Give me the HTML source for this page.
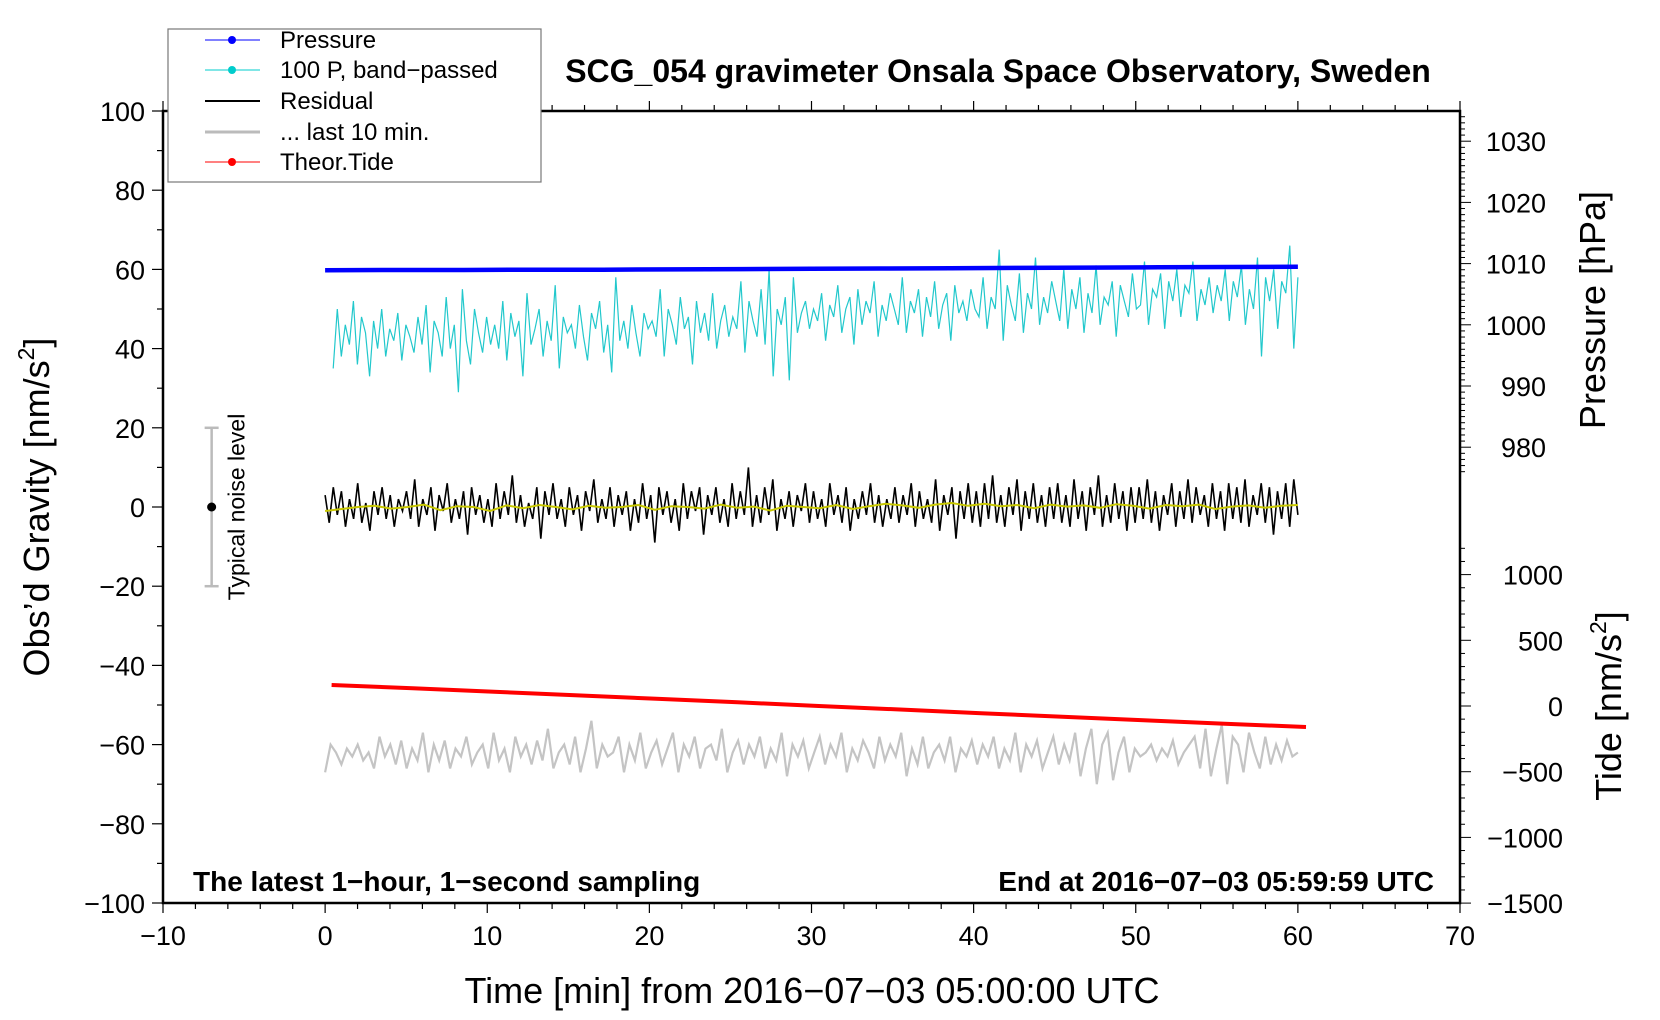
<!DOCTYPE html>
<html><head><meta charset="utf-8">
<style>
html,body{margin:0;padding:0;background:#fff;}
svg{display:block;font-family:"Liberation Sans",sans-serif;}
</style></head>
<body>
<svg id="chart" width="1660" height="1020" viewBox="0 0 1660 1020" xmlns="http://www.w3.org/2000/svg">
<rect x="0" y="0" width="1660" height="1020" fill="#fff"/>
<g id="ticks"></g>
<g id="series"></g>
<rect x="163" y="111" width="1297" height="792" fill="none" stroke="#000" stroke-width="2.5"/>
<text x="998" y="82" font-size="32" font-weight="bold" text-anchor="middle">SCG_054 gravimeter Onsala Space Observatory, Sweden</text>
<text x="193" y="891" font-size="28" font-weight="bold">The latest 1−hour, 1−second sampling</text>
<text x="1434" y="891" font-size="28" font-weight="bold" text-anchor="end">End at 2016−07−03 05:59:59 UTC</text>
<text x="812" y="1003" font-size="36" text-anchor="middle">Time [min] from 2016−07−03 05:00:00 UTC</text>
<text transform="translate(49,507) rotate(-90)" font-size="36" text-anchor="middle">Obs’d Gravity [nm/s<tspan font-size="23" dy="-15">2</tspan><tspan dy="15">]</tspan></text>
<text transform="translate(1605,310) rotate(-90)" font-size="36" text-anchor="middle">Pressure [hPa]</text>
<text transform="translate(1621,706) rotate(-90)" font-size="36" text-anchor="middle">Tide [nm/s<tspan font-size="23" dy="-15">2</tspan><tspan dy="15">]</tspan></text>
<g>
<rect x="168" y="29" width="373" height="153" fill="#fff" stroke="#777" stroke-width="1.2"/>
<g><line x1="205" y1="40" x2="260" y2="40" stroke="#0000ff" stroke-width="1"/><circle cx="232" cy="40" r="4" fill="#0000ff"/><text x="280" y="48" font-size="24">Pressure</text></g>
<g><line x1="205" y1="70" x2="260" y2="70" stroke="#00cccc" stroke-width="1"/><circle cx="232" cy="70" r="4" fill="#00cccc"/><text x="280" y="78" font-size="24">100 P, band−passed</text></g>
<g><line x1="205" y1="101" x2="260" y2="101" stroke="#000" stroke-width="2"/><text x="280" y="109" font-size="24">Residual</text></g>
<g><line x1="205" y1="132" x2="260" y2="132" stroke="#bbb" stroke-width="3"/><text x="280" y="140" font-size="24">... last 10 min.</text></g>
<g><line x1="205" y1="162" x2="260" y2="162" stroke="#ff0000" stroke-width="1"/><circle cx="232" cy="162" r="4" fill="#ff0000"/><text x="280" y="170" font-size="24">Theor.Tide</text></g>
</g>
</svg>
<script>
const xTicks = [-10,0,10,20,30,40,50,60,70];
const yTicks = [100,80,60,40,20,0,-20,-40,-60,-80,-100];
const pTicks = [1030,1020,1010,1000,990,980];
const tideTicks = [1000,500,0,-500,-1000,-1500];
const pressureVals = [1008.9,1008.95,1008.95,1009.0,1009.0,1009.05,1009.1,1009.15,1009.2,1009.25,1009.3,1009.35,1009.4,1009.45,1009.5];
const tideVals = [160,135,108,82,55,28,0,-27,-55,-82,-108,-135,-160];
const bandVals = [
35,50,38,46,41,52,36,48,44,33,47,40,50,38,45,42,49,37,46,43,
39,48,41,51,34,47,44,38,53,40,46,29,55,42,36,50,44,39,48,41,
46,40,52,37,49,43,47,33,54,41,45,50,38,47,42,56,35,48,44,46,
40,51,43,37,49,45,52,39,46,34,58,42,47,40,51,44,38,49,45,47,
43,55,38,50,46,41,53,45,48,36,52,44,49,42,54,40,47,51,43,48,
45,57,39,52,47,43,55,41,60,33,50,46,53,32,58,44,49,52,45,50,
47,54,42,51,48,56,44,50,53,41,55,46,52,49,57,43,51,47,54,50,
46,58,44,52,49,55,43,53,48,57,45,51,54,42,56,49,52,47,55,50,
48,58,45,53,50,65,42,56,51,47,59,44,54,50,63,46,53,49,57,52,
47,60,45,55,50,58,44,54,49,61,46,53,51,57,43,56,52,48,59,50,
51,62,46,55,53,59,45,57,52,60,48,56,54,62,47,55,51,58,49,56,
52,60,47,57,53,61,46,55,50,63,38,58,52,60,45,57,54,66,40,58];
const residVals = [
3,-4,5,-2,4,-5,2,-3,6,-4,1,-6,4,-2,5,-3,3,-5,2,-1,
4,-3,7,-5,2,-2,5,-6,3,-1,6,-4,2,-3,4,-7,5,-2,3,-4,
2,-5,6,-3,4,-2,8,-4,3,-5,1,-3,5,-8,4,-2,6,-3,2,-5,
5,-2,3,-6,4,-1,7,-4,2,-3,5,-5,3,-2,4,-6,2,-4,6,-3,
3,-9,5,-2,4,-4,2,-6,6,-3,4,-1,5,-7,3,-2,5,-4,2,-5,
6,-3,4,-2,10,-5,3,-4,5,-2,7,-6,2,-3,4,-5,3,-1,6,-4,
4,-3,2,-5,6,-2,3,-4,5,-6,2,-3,4,-2,6,-4,3,-5,2,-3,
5,-4,3,-2,6,-5,4,-3,2,-4,7,-6,3,-2,5,-8,4,-3,6,-4,
4,-5,6,-3,8,-4,3,-5,5,-2,7,-6,4,-3,6,-4,3,-5,5,-3,
6,-4,3,-5,7,-3,4,-6,5,-2,8,-5,3,-4,6,-3,4,-6,5,-4,
5,-3,7,-4,4,-6,3,-2,6,-5,4,-3,7,-4,5,-2,3,-5,6,-3,
4,-6,6,-3,5,-4,7,-5,3,-2,6,-4,5,-7,4,-3,6,-5,7,-2];
const smoothVals = [-1,-0.5,0,0.3,-0.4,0,0.6,-0.8,0.2,0,-1,0.4,-0.3,0.5,0,-0.6,0.3,-0.2,0,0.5,
-0.7,0.2,0,-0.4,0.6,-0.2,0.1,-0.9,0.3,0,-0.3,0.5,-0.5,0.2,0.8,0.4,-0.2,0.6,1,0.3,
0.8,0.2,0.5,-0.3,0.6,0.1,0.4,-0.2,0.7,0.3,-0.4,0.5,0.2,0.6,-0.5,0.1,0.4,-0.2,0.3,0.5];
const grayVals = [
-67,-60,-62,-65,-61,-63,-60,-64,-62,-66,-58,-63,-60,-65,-59,-66,-61,-64,-57,-67,
-60,-64,-59,-66,-61,-63,-58,-65,-62,-60,-66,-57,-64,-61,-67,-58,-63,-60,-65,-59,
-64,-56,-66,-62,-60,-65,-58,-67,-61,-54,-66,-60,-63,-62,-58,-67,-60,-64,-57,-66,
-62,-59,-65,-61,-57,-67,-60,-63,-58,-66,-61,-60,-64,-56,-67,-62,-59,-65,-60,-63,
-58,-66,-61,-64,-57,-68,-60,-63,-59,-66,-62,-58,-65,-60,-63,-57,-67,-61,-64,-59,
-62,-66,-58,-64,-60,-63,-57,-68,-61,-65,-58,-66,-62,-60,-64,-58,-67,-61,-63,-59,
-65,-60,-63,-58,-66,-61,-64,-57,-67,-60,-63,-59,-66,-62,-58,-65,-60,-64,-57,-68,
-61,-56,-70,-60,-57,-69,-62,-58,-67,-61,-63,-62,-60,-64,-61,-63,-59,-65,-62,-60,
-58,-66,-56,-68,-61,-55,-70,-58,-60,-67,-57,-62,-66,-58,-65,-60,-64,-59,-63,-62];

const X0=163, X1=1460, Y0=111, Y1=903;
function sx(t){return X0+(t+10)/80*(X1-X0);}
function sy(g){return Y0+(100-g)/200*(Y1-Y0);}
function sp(p){return 141.2+(1030-p)*6.12;}
function st(v){return 706-v*0.1314;}
const NS='http://www.w3.org/2000/svg';
const ticksG=document.getElementById('ticks');
const seriesG=document.getElementById('series');
function mk(tag,attrs,parent){const e=document.createElementNS(NS,tag);for(const k in attrs)e.setAttribute(k,attrs[k]);parent.appendChild(e);return e;}
function fmt(v){return v<0?'\u2212'+(-v):''+v;}

for(let t=-10;t<=70;t+=2){
  const major=(t%10===0);
  const tk=mk('line',{x1:sx(t),x2:sx(t),y1:Y1,y2:Y1+(major?10:6),stroke:'#000','stroke-width':1.2},ticksG);
  
  
  const tt=mk('line',{x1:sx(t),x2:sx(t),y1:Y0,y2:Y0-(major?10:6),stroke:'#000','stroke-width':1.2},ticksG);
  
  
}
xTicks.forEach(t=>{
  const l=mk('text',{x:sx(t),y:Y1+42,'font-size':27,'text-anchor':'middle'},ticksG);
  l.textContent=fmt(t);
  
  
});
for(let g=-100;g<=100;g+=10){
  const major=(g%20===0);
  const tk=mk('line',{x1:X0,x2:X0-(major?11:6),y1:sy(g),y2:sy(g),stroke:'#000','stroke-width':1.2},ticksG);
  
  
}
yTicks.forEach(g=>{
  const l=mk('text',{x:X0-18,y:sy(g)+10,'font-size':27,'text-anchor':'end'},ticksG);
  l.textContent=fmt(g);
  
  
});
for(let p=976;p<=1034;p+=1){
  const major=(p%10===0);
  const tk=mk('line',{x1:X1,x2:X1+(major?11:5),y1:sp(p),y2:sp(p),stroke:'#000','stroke-width':1},ticksG);
  
  
}
pTicks.forEach(p=>{
  const l=mk('text',{x:1546,y:sp(p)+10,'font-size':27,'text-anchor':'end'},ticksG);
  l.textContent=''+p;
  
  
});
for(let v=-1500;v<=1250;v+=100){
  const major=(v%500===0);
  const tk=mk('line',{x1:X1,x2:X1+(major?11:5),y1:st(v),y2:st(v),stroke:'#000','stroke-width':1},ticksG);
  
  
}
tideTicks.forEach(v=>{
  const l=mk('text',{x:1563,y:st(v)+10,'font-size':27,'text-anchor':'end'},ticksG);
  l.textContent=fmt(v);
  
  
});

function pts(vals,t0,t1,fy){return vals.map((v,i)=>sx(t0+(t1-t0)*i/(vals.length-1)).toFixed(1)+','+fy(v).toFixed(1)).join(' ');}

const nb=mk('g',{},seriesG);


mk('line',{x1:sx(-7),x2:sx(-7),y1:sy(20),y2:sy(-20),stroke:'#bbb','stroke-width':2.5},nb);
mk('line',{x1:sx(-7)-7,x2:sx(-7)+7,y1:sy(20),y2:sy(20),stroke:'#bbb','stroke-width':2.5},nb);
mk('line',{x1:sx(-7)-7,x2:sx(-7)+7,y1:sy(-20),y2:sy(-20),stroke:'#bbb','stroke-width':2.5},nb);
mk('circle',{cx:sx(-7),cy:sy(0),r:4.5,fill:'#000'},nb);
const nt=mk('text',{transform:'translate('+(sx(-7)+33)+','+sy(0)+') rotate(-90)','font-size':23,'text-anchor':'middle'},nb);
nt.textContent='Typical noise level';



const gray=mk('polyline',{points:pts(grayVals,0,60,sy),fill:'none',stroke:'#c4c4c4','stroke-width':2.2},seriesG);


const tide=mk('polyline',{points:pts(tideVals,0.4,60.5,st),fill:'none',stroke:'#ff0000','stroke-width':4},seriesG);


const band=mk('polyline',{points:pts(bandVals,0.5,60,sy),fill:'none',stroke:'#22c8cc','stroke-width':1.2},seriesG);


const res=mk('polyline',{points:pts(residVals,0,60,sy),fill:'none',stroke:'#000','stroke-width':1.6},seriesG);


const sm=mk('polyline',{points:pts(smoothVals,0,60,sy),fill:'none',stroke:'#c8c800','stroke-width':2},seriesG);


const pr=mk('polyline',{points:pts(pressureVals,0,60,sp),fill:'none',stroke:'#0000ff','stroke-width':4.5},seriesG);


</script>
</body></html>
